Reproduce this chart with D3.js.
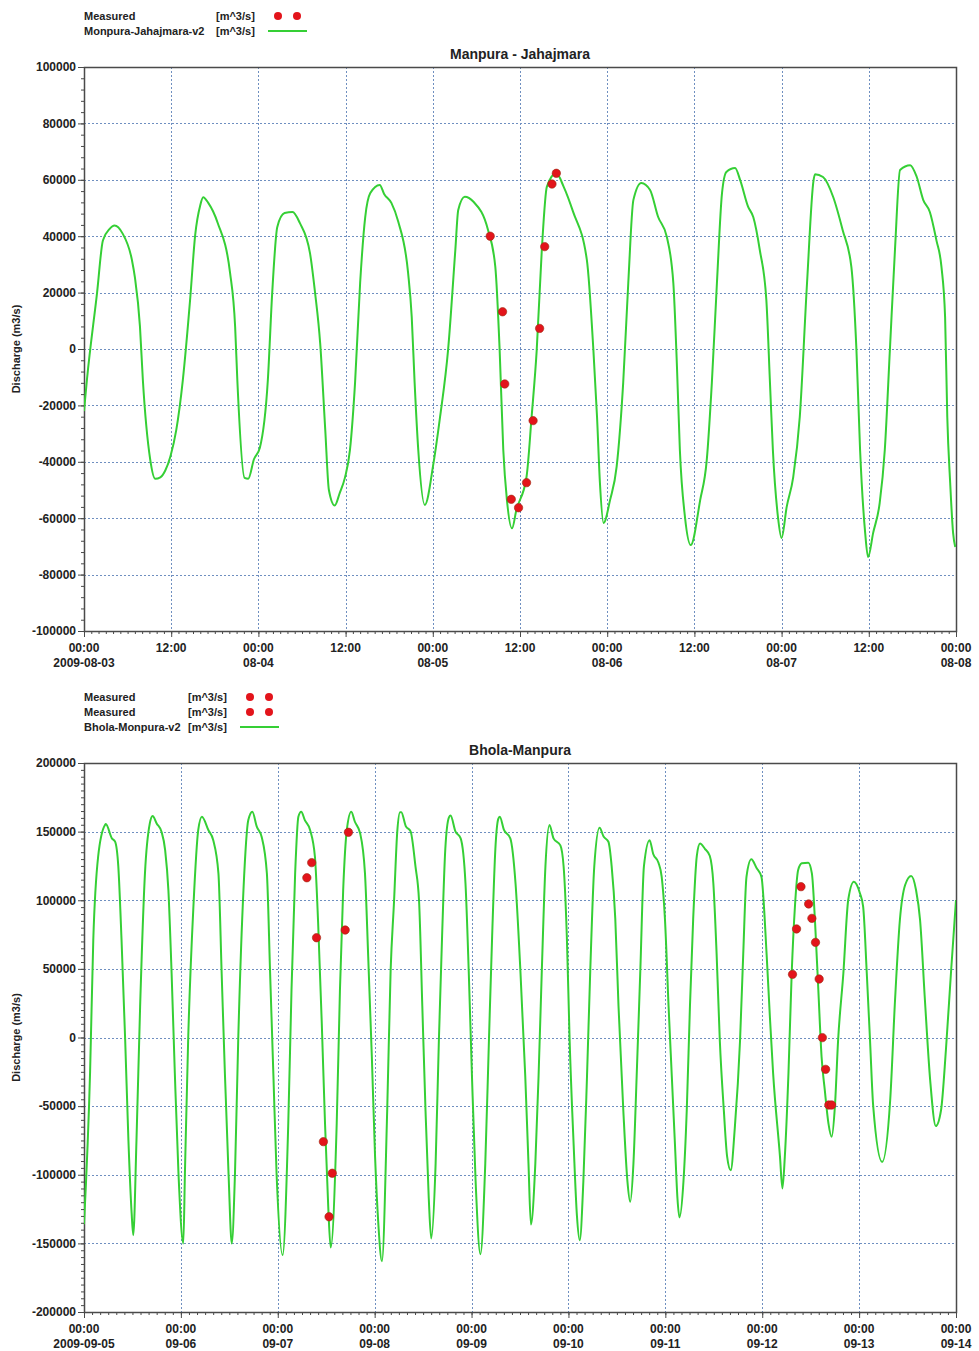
<!DOCTYPE html>
<html>
<head>
<meta charset="utf-8">
<script src="https://cdn.jsdelivr.net/npm/d3@7"></script>
<style>
  body { margin: 0; background: #fff; }
  svg text { font-family: Arial, "Liberation Sans", sans-serif; font-weight: bold; fill: #222; }
</style>
</head>
<body>
<svg id="chart" width="979" height="1351"></svg>
<script>
// Manpura - Jahajmara (hours after start, discharge m3/s)
const topStart = '2009-08-03T00:00';
const topHours = [0, 0.4, 1.8, 2.6, 3.5, 4.2, 5.3, 6.6, 7.0, 7.7, 8.1, 9.1, 9.8, 10.5, 11.2, 11.9, 12.7, 13.6, 14.6, 15.3,
  16.0, 16.4, 17.1, 18.4, 20.1, 20.8, 21.1, 22.1, 22.6, 23.4, 24.2, 25.3, 25.9, 26.6, 27.6, 28.7, 29.7, 31.1, 31.8, 32.5,
  33.2, 33.7, 34.5, 35.2, 35.9, 36.6, 37.3, 38.0, 38.7, 39.4, 40.7, 41.3, 42.3, 43.25, 44.6, 45.1, 45.5, 46.0, 46.9, 48.1,
  49.0, 50.1, 51.1, 51.5, 52.4, 53.6, 55.6, 56.6, 57.2, 57.7, 58.2, 58.9, 59.5, 60.9, 61.6, 62.3, 63.0, 63.7, 65.0, 66.0,
  67.3, 69.2, 70.1, 70.6, 71.0, 71.5, 72.4, 73.3, 74.2, 74.9, 75.6, 76.7, 77.9, 79.0, 80.2, 81.1, 81.6, 82.0, 82.7, 83.5,
  84.8, 85.7, 86.4, 87.1, 87.8, 88.4, 89.6, 90.3, 91.4, 92.1, 93.0, 93.9, 94.4, 94.8, 95.5, 96.0, 96.7, 97.6, 98.5, 99.5,
  100.4, 100.6, 101.7, 103.1, 104.4, 105.6, 106.3, 106.8, 107.5, 107.9, 108.6, 109.5, 110.2, 110.9, 111.6, 112.3, 113.7, 114.6, 115.5, 116.4,
  117.3, 118.0, 118.5, 118.8, 119.2, 119.6, 119.9];
const topFlow = [-22000, -11000, 20000, 38500, 42500, 43800, 41000, 31500, 25500, 8000, -11000, -39000, -46000, -45500, -43000, -38000, -28700, -11000, 17400, 40400,
  51000, 53800, 51800, 44700, 27000, 7800, -11000, -45700, -46000, -39000, -35000, -11000, 19900, 43300, 48200, 48600, 44700, 34000, 19900, 2100,
  -28700, -50000, -55500, -51000, -45700, -35800, -12000, 23400, 46800, 55300, 58200, 55000, 51800, 45100, 27000, 11400, -12000, -35800, -55300, -40400,
  -24100, -400, 35100, 49300, 54000, 52200, 42200, 29200, -400, -35800, -53500, -63600, -57100, -45300, -24000, -400, 35100, 57600, 62300, 57600,
  48700, 31600, -400, -24000, -47500, -61700, -53500, -41700, -12000, 23400, 52800, 58900, 56400, 46900, 39800, 23400, -6300, -35800, -59500, -69500,
  -53500, -39400, -12000, 23400, 55300, 62800, 64200, 59900, 50400, 46800, 35100, 17400, -12000, -35800, -59600, -67000, -56000, -45400, -24100, 23400,
  59900, 62000, 61000, 53900, 42200, 29100, -400, -35800, -65200, -73800, -65200, -54600, -35800, -400, 35100, 63500, 65200, 61000, 52800, 48600,
  38600, 29100, 11300, -24100, -47500, -65200, -70200];
const topMeasuredHours = [55.9, 57.6, 57.9, 58.8, 59.8, 60.9, 61.8, 62.7, 63.4, 64.4, 65.0];
const topMeasuredFlow = [40000, 13200, -12400, -53300, -56300, -47400, -25400, 7300, 36300, 58500, 62300];

// Bhola-Manpura
const bottomStart = '2009-09-05T00:00';
const bottomHours = [0, 1.5, 2.3, 3.5, 5.2, 5.4, 6.9, 7.7, 8.5, 9.3, 10.2, 11.0, 11.8, 12.2, 13.0, 13.9, 15.1, 16.3, 17.0, 18.0,
  19.2, 20.1, 20.9, 21.7, 22.5, 23.4, 24.6, 25.0, 25.8, 27.1, 28.3, 29.2, 30.8, 32.0, 33.3, 34.1, 34.9, 35.8, 36.6, 37.4,
  38.2, 39.5, 40.7, 41.7, 42.8, 44.0, 45.3, 46.1, 46.9, 47.7, 49.2, 50.6, 51.4, 52.3, 53.1, 53.8, 54.7, 56.0, 57.2, 58.0,
  58.9, 59.7, 60.5, 61.1, 62.6, 63.4, 64.2, 65.1, 66.2, 67.1, 68.4, 69.6, 70.4, 71.3, 72.1, 72.9, 73.8, 75.1, 75.95, 76.8,
  77.6, 78.3, 78.6, 79.7, 80.9, 82.1, 83.0, 83.8, 84.6, 85.4, 86.0, 87.1, 87.9, 88.7, 89.5, 90.4, 90.8, 92.0, 93.3, 94.5,
  95.3, 96.1, 97.0, 98.2, 99.4, 100.3, 101.1, 101.9, 102.6, 103.0, 104.0, 105.6, 106.9, 108.1, 109.3, 110.1, 110.7, 111.8, 112.6, 113.4,
  114.3, 115.3, 116.3, 118.0, 118.8, 119.6, 120.3, 121.3, 122.1, 122.8, 123.7, 124.6, 125.4, 126.4, 127.7, 128.7, 129.9, 130.7, 131.6, 132.4,
  133.6, 134.6, 135.3, 136.1, 136.9, 137.8, 138.7, 140.1, 141.0, 142.3, 143.1, 143.9, 144.8, 145.6, 146.4, 147.0, 147.5, 148.5, 149.3, 150.1,
  150.9, 151.8, 152.6, 153.8, 155.0, 155.9, 156.7, 157.5, 158.5, 159.3, 160.2, 161.2, 162.5, 163.3, 164.1, 165.3, 166.6, 167.8, 169.1, 169.9,
  170.7, 172.4, 173.0, 173.6, 174.5, 175.3, 176.1, 176.9, 177.8, 179.4, 180.3, 181.1, 181.9, 182.7, 183.5, 184.4, 185.2, 186.0, 186.8, 188.1,
  189.3, 190.7, 192.2, 193.0, 193.9, 194.7, 195.5, 197.7, 199.7, 200.9, 202.1, 203.4, 204.9, 206.1, 207.1, 208.3, 209.6, 211.0, 212.3, 213.5,
  214.8, 216.0];
const bottomFlow = [-136000, -25900, 71000, 131700, 154800, 155500, 145100, 142700, 124500, 71000, -1800, -74700, -128000, -144000, -74700, 22400, 119600, 156000, 161400, 156000,
  149900, 136600, 107500, 46800, -26100, -98900, -150000, -98900, -1800, 95300, 151200, 160900, 151200, 143900, 119600, 46800, -26100, -98900, -150000, -98900,
  -1800, 107500, 158400, 164500, 153600, 146300, 119600, 47000, -26100, -98900, -158500, -62500, 34600, 119600, 160900, 164500, 158400, 151200, 131700, 83200,
  10300, -62500, -123300, -153000, -62500, 34600, 107500, 151200, 164500, 157200, 148800, 119600, 58900, -14000, -86800, -135300, -163000, -53500, 48400, 99300,
  150200, 164200, 164200, 154000, 150200, 124800, 99300, 22900, -53500, -117100, -146400, -91700, -2500, 73800, 137500, 160400, 161700, 150200, 145100, 112000,
  48400, -28000, -104400, -157900, -91700, -2500, 73800, 137500, 159100, 160900, 151500, 145100, 112000, 48400, -28000, -91700, -136200, -91700, -28000, 48400,
  124800, 154800, 145100, 140000, 124800, 73800, -2500, -78900, -129800, -147700, -104400, -28000, 48400, 124800, 152800, 146400, 142600, 124800, 86600, 22900,
  -53500, -104400, -119700, -91700, -28000, 48400, 124800, 143800, 133700, 127300, 117100, 86600, 22900, -28000, -78900, -117100, -131100, -104400, -53500, 22900,
  86600, 132400, 141300, 137500, 132400, 112000, 61100, -2500, -53500, -86600, -96700, -66200, -2500, 61100, 117100, 129800, 123500, 117100, 60000, 15000,
  -26100, -86800, -110000, -86800, -26100, 46800, 95300, 122000, 126900, 127400, 119600, 83200, 34600, -14000, -38300, -62500, -72300, -50400, -1800, 46800,
  100200, 113500, 105100, 95300, 46800, -1800, -50400, -90700, -45500, 27300, 85600, 111100, 117700, 107500, 85600, 27300, -31000, -64500, -52800, -9100,
  49200, 100200];
const bottomMeasuredAHours = [55.2, 56.4, 57.6, 59.3, 60.7, 61.5, 64.7, 65.5];
const bottomMeasuredAFlow = [116400, 127400, 72700, -75900, -130600, -98900, 78300, 149500];
const bottomMeasuredBHours = [175.5, 176.5, 177.6, 179.5, 180.3, 181.2, 182.1, 182.9, 183.7, 184.5, 185.2];
const bottomMeasuredBFlow = [46000, 79100, 109900, 97300, 86800, 69300, 42600, -100, -23200, -49200, -49200];

const LINE_GREEN = '#35cf35';
const DOT_RED = '#e3141b';
const GRID_BLUE = '#6f8fc0';
const AXIS_GREY = '#4a4a4a';

const parseTime = d3.timeParse('%Y-%m-%dT%H:%M');
const fmtFirst = d3.timeFormat('%Y-%m-%d');
const fmtDay = d3.timeFormat('%m-%d');
const fmtHour = d3.timeFormat('%H:%M');

const svg = d3.select('#chart');

const drawPanel = (cfg) => {
  const { left, top, width, height } = cfg.box;
  const start = parseTime(cfg.start);
  const at = (h) => d3.timeHour.offset(start, 0).getTime() + h * 3600000;
  const x = d3.scaleLinear().domain([0, cfg.spanHours]).range([left, left + width]);
  const y = d3.scaleLinear().domain(cfg.yDomain).range([top + height, top]);
  const g = svg.append('g');

  const clipId = `clip-${cfg.id}`;
  g.append('clipPath').attr('id', clipId)
    .append('rect').attr('x', left).attr('y', top).attr('width', width).attr('height', height);

  const xMajor = d3.range(0, cfg.spanHours + 0.01, cfg.majorHours);
  const xMinor = d3.range(0, cfg.spanHours + 0.01, cfg.minorHours);
  const yMajor = d3.range(cfg.yDomain[0], cfg.yDomain[1] + 1, cfg.yStep);
  const yMinor = d3.range(cfg.yDomain[0], cfg.yDomain[1] + 1, cfg.yMinorStep);

  // dotted grid
  const grid = g.append('g')
    .attr('stroke', GRID_BLUE)
    .attr('stroke-width', 1)
    .attr('stroke-dasharray', '2,2');
  grid.selectAll('.vgrid').data(xMajor.slice(1, -1)).join('line')
    .attr('x1', (d) => Math.round(x(d)) + 0.5).attr('x2', (d) => Math.round(x(d)) + 0.5)
    .attr('y1', top).attr('y2', top + height);
  grid.selectAll('.hgrid').data(yMajor.slice(1, -1)).join('line')
    .attr('x1', left).attr('x2', left + width)
    .attr('y1', (d) => Math.round(y(d)) + 0.5).attr('y2', (d) => Math.round(y(d)) + 0.5);

  // x axis: minor + major ticks, labels drawn separately (two lines)
  g.append('g')
    .attr('transform', `translate(0,${top + height})`)
    .call(d3.axisBottom(x).tickValues(xMinor).tickSize(3).tickFormat(''))
    .call((a) => a.select('.domain').remove())
    .selectAll('line').attr('stroke', AXIS_GREY);
  g.append('g')
    .attr('transform', `translate(0,${top + height})`)
    .call(d3.axisBottom(x).tickValues(xMajor).tickSize(6).tickFormat(''))
    .call((a) => a.select('.domain').remove())
    .selectAll('line').attr('stroke', AXIS_GREY);

  const xLabels = g.append('g').attr('font-size', 12).attr('text-anchor', 'middle');
  xMajor.forEach((h, i) => {
    const t = new Date(at(h));
    const label = xLabels.append('text').attr('x', x(h)).attr('y', top + height + 21);
    label.append('tspan').text(fmtHour(t));
    if (t.getHours() === 0) {
      label.append('tspan').attr('x', x(h)).attr('dy', 15).text(i === 0 ? fmtFirst(t) : fmtDay(t));
    }
  });

  // y axis
  g.append('g')
    .attr('transform', `translate(${left},0)`)
    .call(d3.axisLeft(y).tickValues(yMinor).tickSize(3).tickFormat(''))
    .call((a) => a.select('.domain').remove())
    .selectAll('line').attr('stroke', AXIS_GREY);
  g.append('g')
    .attr('transform', `translate(${left},0)`)
    .call(d3.axisLeft(y).tickValues(yMajor).tickSize(6).tickPadding(2).tickFormat((d) => String(d)))
    .call((a) => a.select('.domain').remove())
    .call((a) => a.selectAll('line').attr('stroke', AXIS_GREY))
    .call((a) => a.selectAll('text').attr('font-size', 12).attr('font-family', null).attr('fill', '#222'));

  g.append('rect')
    .attr('x', left + 0.5).attr('y', top + 0.5)
    .attr('width', width).attr('height', height)
    .attr('fill', 'none').attr('stroke', AXIS_GREY).attr('stroke-width', 1.5);

  g.append('text')
    .attr('x', left + width / 2).attr('y', top - 8)
    .attr('text-anchor', 'middle').attr('font-size', 14)
    .text(cfg.title);

  g.append('text')
    .attr('transform', `translate(17,${top + height / 2}) rotate(-90)`)
    .attr('text-anchor', 'middle').attr('dominant-baseline', 'middle')
    .attr('font-size', 11)
    .text('Discharge (m3/s)');

  // model line
  const series = cfg.hours.map((h, i) => ({ h, v: cfg.flow[i] }));
  g.append('path')
    .datum(series)
    .attr('clip-path', `url(#${clipId})`)
    .attr('fill', 'none')
    .attr('stroke', LINE_GREEN)
    .attr('stroke-width', 2)
    .attr('stroke-linejoin', 'round')
    .attr('d', d3.line().x((d) => x(d.h)).y((d) => y(d.v)).curve(d3.curveMonotoneX));

  // measured points
  cfg.measured.forEach((m) => {
    g.append('g').selectAll('circle')
      .data(m.hours.map((h, i) => ({ h, v: m.flow[i] })))
      .join('circle')
      .attr('cx', (d) => x(d.h)).attr('cy', (d) => y(d.v))
      .attr('r', 4.2)
      .attr('fill', DOT_RED)
      .attr('stroke', '#9a2a10').attr('stroke-width', 0.6);
  });

  // legend
  const lg = g.append('g').attr('font-size', 11);
  cfg.legend.forEach((item, i) => {
    const ly = cfg.legendY + i * 15;
    lg.append('text').attr('x', left).attr('y', ly + 4).attr('fill', '#333').text(item.name);
    lg.append('text').attr('x', cfg.unitX).attr('y', ly + 4).attr('fill', '#333').text('[m^3/s]');
    if (item.kind === 'dot') {
      [0, 19].forEach((dx) => {
        lg.append('circle').attr('cx', cfg.symbolX + 10 + dx).attr('cy', ly).attr('r', 4).attr('fill', DOT_RED);
      });
    } else {
      lg.append('line')
        .attr('x1', cfg.symbolX).attr('x2', cfg.symbolX + 39)
        .attr('y1', ly).attr('y2', ly)
        .attr('stroke', LINE_GREEN).attr('stroke-width', 2);
    }
  });
};

drawPanel({
  id: 'top',
  title: 'Manpura - Jahajmara',
  start: topStart,
  spanHours: 120,
  majorHours: 12,
  minorHours: 1,
  yDomain: [-100000, 100000],
  yStep: 20000,
  yMinorStep: 4000,
  box: { left: 84, top: 67, width: 872, height: 564 },
  hours: topHours,
  flow: topFlow,
  measured: [{ hours: topMeasuredHours, flow: topMeasuredFlow }],
  legendY: 16,
  unitX: 216,
  symbolX: 268,
  legend: [
    { name: 'Measured', kind: 'dot' },
    { name: 'Monpura-Jahajmara-v2', kind: 'line' },
  ],
});

drawPanel({
  id: 'bottom',
  title: 'Bhola-Manpura',
  start: bottomStart,
  spanHours: 216,
  majorHours: 24,
  minorHours: 2,
  yDomain: [-200000, 200000],
  yStep: 50000,
  yMinorStep: 5000,
  box: { left: 84, top: 763, width: 872, height: 549 },
  hours: bottomHours,
  flow: bottomFlow,
  measured: [
    { hours: bottomMeasuredAHours, flow: bottomMeasuredAFlow },
    { hours: bottomMeasuredBHours, flow: bottomMeasuredBFlow },
  ],
  legendY: 697,
  unitX: 188,
  symbolX: 240,
  legend: [
    { name: 'Measured', kind: 'dot' },
    { name: 'Measured', kind: 'dot' },
    { name: 'Bhola-Monpura-v2', kind: 'line' },
  ],
});
</script>
</body>
</html>
